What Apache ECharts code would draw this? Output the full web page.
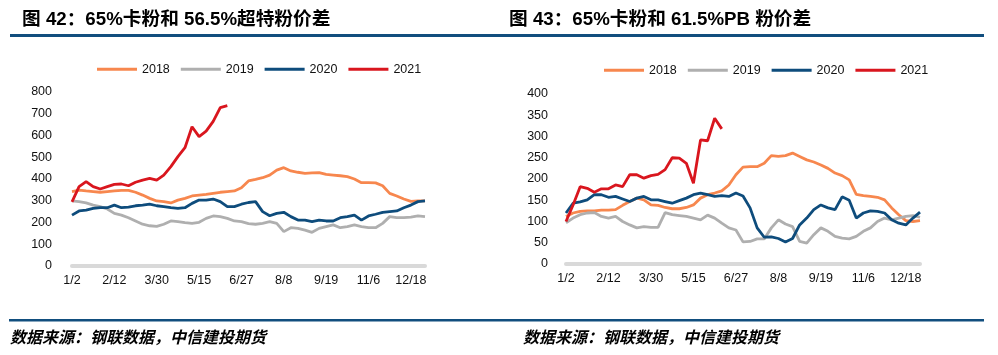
<!DOCTYPE html>
<html>
<head>
<meta charset="utf-8">
<script src="https://cdn.jsdelivr.net/npm/echarts@6/dist/echarts.min.js"></script>
<style>
html,body{margin:0;padding:0;background:#fff;}
#c{width:998px;height:355px;}
</style>
</head>
<body>
<div id="c"></div>
<script>
// Category axis (approx. weekly steps); labels shown every 6th category
var categories = [
  "1/2","1/9","1/16","1/23","1/30","2/6",
  "2/12","2/20","2/28","3/7","3/15","3/22",
  "3/30","4/7","4/15","4/22","4/29","5/7",
  "5/15","5/22","5/29","6/5","6/12","6/20",
  "6/27","7/4","7/11","7/18","7/25","8/1",
  "8/8","8/15","8/22","8/29","9/5","9/12",
  "9/19","9/26","10/10","10/17","10/24","10/31",
  "11/6","11/13","11/20","11/27","12/4","12/11",
  "12/18","12/25","12/31"
];
var seriesNames = ["2018","2019","2020","2021"];

// 图 42: 65%卡粉和56.5%超特粉价差
var left2018 = [342,349,345,342,339,342,345,348,348,339,326,311,299,296,290,303,311,322,326,329,334,339,342,345,360,391,398,406,418,441,452,437,431,426,428,429,421,418,415,411,400,383,383,382,369,334,322,308,297,299,299];
var left2019 = [299,296,290,280,273,262,242,234,222,207,192,185,182,192,207,204,199,196,201,219,230,227,219,207,204,195,192,196,204,196,158,176,173,165,155,173,181,189,176,181,189,181,176,176,196,227,222,222,225,230,227];
var left2020 = [234,253,257,265,268,268,280,268,271,277,280,284,277,273,268,265,268,288,303,303,308,296,273,273,284,292,296,250,231,242,247,227,211,211,204,211,207,207,222,227,234,211,230,238,247,250,253,268,280,296,299];
var left2021 = [295,365,388,365,354,365,375,377,369,385,395,403,395,418,457,503,544,640,595,620,665,728,737];

// 图 43: 65%卡粉和61.5%PB粉价差
var right2018 = [112,120,124,125,125,127,127,128,138,147,155,151,139,138,133,130,130,133,139,155,163,167,172,186,210,228,229,229,237,255,253,255,261,253,245,240,233,225,214,208,198,164,161,159,157,151,132,116,102,100,102];
var right2019 = [97,108,116,120,121,112,108,112,100,92,85,88,86,86,121,116,114,112,108,104,115,108,96,85,80,52,53,59,59,85,104,94,88,53,49,69,85,77,65,61,59,65,77,85,100,108,104,108,112,114,110];
var right2020 = [120,143,146,151,163,163,157,159,153,147,155,159,151,151,147,143,149,155,163,167,163,159,161,159,167,160,132,85,63,64,60,52,60,92,108,128,139,132,128,158,150,108,120,125,124,120,104,96,92,108,122];
var right2021 = [100,139,182,178,169,177,177,186,182,210,210,202,208,211,222,250,249,237,190,292,290,343,318];

var leftTicks = {min:0, max:800, interval:100};
var rightTicks = {min:0, max:400, interval:50};

var colors = ["#F7874E","#AFAFAF","#0E4C7C","#D9161E"];
var txtFont = '"Liberation Sans", Arial, "Noto Sans CJK SC", sans-serif';

function mkSeries(name, data, gi, ci) {
  return {
    name: name, type: 'line', data: data,
    xAxisIndex: gi, yAxisIndex: gi,
    symbol: 'none', smooth: false,
    lineStyle: {width: 2.8, color: colors[ci]},
    itemStyle: {color: colors[ci]},
    z: 2 + ci
  };
}
function mkX(gi) {
  return {
    type: 'category', gridIndex: gi, data: categories, boundaryGap: false,
    axisLine: {lineStyle: {color: '#D9D9D9', width: 4}},
    axisTick: {show: false},
    axisLabel: {interval: 5, color: '#111', fontSize: 12.5, margin: 8, fontFamily: txtFont},
    splitLine: {show: false}
  };
}
function mkY(gi, t, margin) {
  return {
    type: 'value', gridIndex: gi, min: t.min, max: t.max, interval: t.interval,
    axisLine: {show: false}, axisTick: {show: false}, splitLine: {show: false},
    axisLabel: {color: '#111', fontSize: 12.5, margin: margin, fontFamily: txtFont}
  };
}
function mkLegend(left, top) {
  return {
    left: left, top: top, padding: 0, icon: 'rect', itemWidth: 40, itemHeight: 3, itemGap: 11,
    data: seriesNames,
    textStyle: {color: '#111', fontSize: 12.5, fontFamily: txtFont}
  };
}

var chart = echarts.init(document.getElementById('c'), null, {renderer: 'canvas'});
var lineColor = '#114E7E';
var titleFont = 'bold 18.7px "Liberation Sans", Arial, "Noto Sans CJK SC", sans-serif';
var footFont = 'italic bold 16px "Noto Sans CJK SC", sans-serif';
chart.setOption({
  animation: false,
  backgroundColor: '#fff',
  grid: [
    {left: 72, top: 92, width: 353, height: 174},
    {left: 566, top: 94, width: 354, height: 170}
  ],
  legend: [mkLegend(97, 63), mkLegend(604, 64)],
  xAxis: [mkX(0), mkX(1)],
  yAxis: [mkY(0, leftTicks, 20), mkY(1, rightTicks, 18)],
  series: [
    mkSeries('2018', left2018, 0, 0),
    mkSeries('2019', left2019, 0, 1),
    mkSeries('2020', left2020, 0, 2),
    mkSeries('2021', left2021, 0, 3),
    mkSeries('2018', right2018, 1, 0),
    mkSeries('2019', right2019, 1, 1),
    mkSeries('2020', right2020, 1, 2),
    mkSeries('2021', right2021, 1, 3)
  ],
  graphic: [
    {type: 'text', x: 22, y: 20, style: {text: '图 42：65%卡粉和 56.5%超特粉价差', font: titleFont, fill: '#000', verticalAlign: 'middle'}},
    {type: 'text', x: 509, y: 20, style: {text: '图 43：65%卡粉和 61.5%PB 粉价差', font: titleFont, fill: '#000', verticalAlign: 'middle'}},
    {type: 'rect', shape: {x: 10, y: 34, width: 490, height: 3}, style: {fill: lineColor}},
    {type: 'rect', shape: {x: 500, y: 34, width: 484, height: 3}, style: {fill: lineColor}},
    {type: 'rect', shape: {x: 9, y: 319, width: 491, height: 2.5}, style: {fill: lineColor}},
    {type: 'rect', shape: {x: 500, y: 319, width: 484, height: 2.5}, style: {fill: lineColor}},
    {type: 'text', x: 10, y: 337, style: {text: '数据来源：钢联数据，中信建投期货', font: footFont, fill: '#000', verticalAlign: 'middle'}},
    {type: 'text', x: 523, y: 337, style: {text: '数据来源：钢联数据，中信建投期货', font: footFont, fill: '#000', verticalAlign: 'middle'}}
  ]
});
</script>
</body>
</html>
